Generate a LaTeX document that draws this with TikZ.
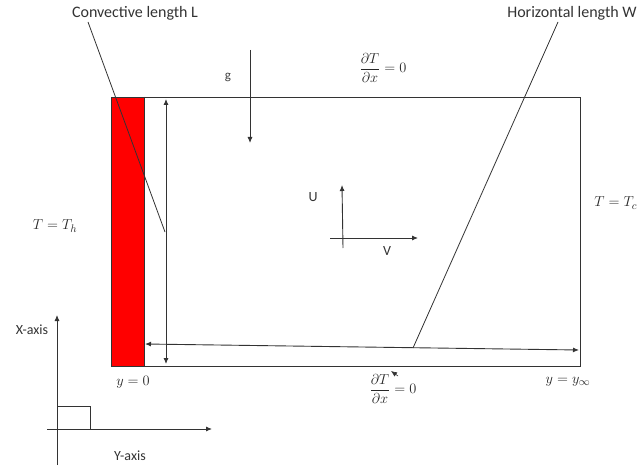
\documentclass[tikz,border=0pt]{standalone}
\usepackage{amsmath}
\usepackage{fontspec}
\setmainfont{Carlito}
\usetikzlibrary{arrows.meta}

\begin{document}
\begin{tikzpicture}[x=1pt, y=-1pt, line width=0.9pt, color=black!80,
        lbl/.style={font=\fontsize{16}{19}\selectfont, text=black!80, inner sep=0pt},
        eqn/.style={font=\fontsize{15}{18}\selectfont, text=black!85, inner sep=0pt},
        tip/.style={-{Latex[length=6pt, width=5pt]}},
        tips/.style={{Latex[length=6pt, width=5pt]}-{Latex[length=6pt, width=5pt]}}]
        \useasboundingbox (0, 0) rectangle (640, 468);
        % cavity with heated strip
        \coordinate (tl) at (111, 97); \coordinate (br) at (580, 366);
        \coordinate (st) at (144, 97); \coordinate (sb) at (144, 366);
        \fill[red] (tl) rectangle (sb);
        \draw (tl) rectangle (br);
        \draw (st) -- (sb);
        % lengths L and W
        \coordinate (Ltop) at (166, 99); \coordinate (Lbot) at (166, 364);
        \draw[tips] (Ltop) -- (Lbot);
        \coordinate (Wl) at (145, 344); \coordinate (Wr) at (579, 350);
        \draw[tips] (Wl) -- (Wr);
        \node[lbl] (Llabel) at (135, 13) {Convective length L};
        \node[lbl] (Wlabel) at (572, 13) {Horizontal length W};
        \coordinate (Lfoot) at (88, 22); \coordinate (Lend) at (165, 232);
        \coordinate (Wfoot) at (558, 22); \coordinate (Wend) at (413, 348);
        \draw[line width=0.8pt] (Lfoot) -- (Lend);
        \draw[line width=0.8pt] (Wfoot) -- (Wend);
        % gravity
        \node[font=\fontsize{13}{15}\selectfont, text=black!75] (glabel) at (228, 77) {g};
        \coordinate (gtop) at (250, 50); \coordinate (gbot) at (250, 143);
        \draw[tip] (gtop) -- (gbot);
        % velocities
        \coordinate (Ubot) at (343, 248); \coordinate (Utop) at (342, 185);
        \coordinate (Vl) at (330, 238); \coordinate (Vr) at (418, 238);
        \draw[tip] (Ubot) -- (Utop);
        \draw[tip] (Vl) -- (Vr);
        \node[lbl, font=\fontsize{14}{17}\selectfont] (Ulabel) at (313, 197) {U};
        \node[lbl, font=\fontsize{14}{17}\selectfont] (Vlabel) at (387, 251) {V};
        % boundary conditions
        \node[eqn] (topbc) at (383, 68) {$\dfrac{\partial T}{\partial x} = 0$};
        \node[eqn] (botbc) at (393, 389) {$\dfrac{\partial T}{\partial x} = 0$};
        \coordinate (stubA) at (398, 376); \coordinate (stubB) at (391, 371);
        \draw[tip, line width=0.6pt] (stubA) -- (stubB);
        \node[eqn] (hot) at (55, 226) {$T = T_h$};
        \node[eqn, anchor=west] (cold) at (594, 203) {$T = T_c$};
        \node[eqn] (yzero) at (133, 382) {$y = 0$};
        \node[eqn] (yinf) at (568, 382) {$y = y_\infty$};
        % axes
        \coordinate (Xbot) at (57, 465); \coordinate (Xtop) at (57, 315);
        \coordinate (Yl) at (47, 429); \coordinate (Yr) at (212, 429);
        \draw[tip] (Xbot) -- (Xtop);
        \draw[tip] (Yl) -- (Yr);
        \coordinate (sq1) at (57, 406); \coordinate (sq2) at (90, 406); \coordinate (sq3) at (90, 429);
        \draw (sq1) -- (sq2) -- (sq3);
        \node[lbl, font=\fontsize{14}{17}\selectfont] (Xlabel) at (32, 330) {X-axis};
        \node[lbl, font=\fontsize{14}{17}\selectfont] (Ylabel) at (130, 456) {Y-axis};
    \end{tikzpicture}
\end{document}
